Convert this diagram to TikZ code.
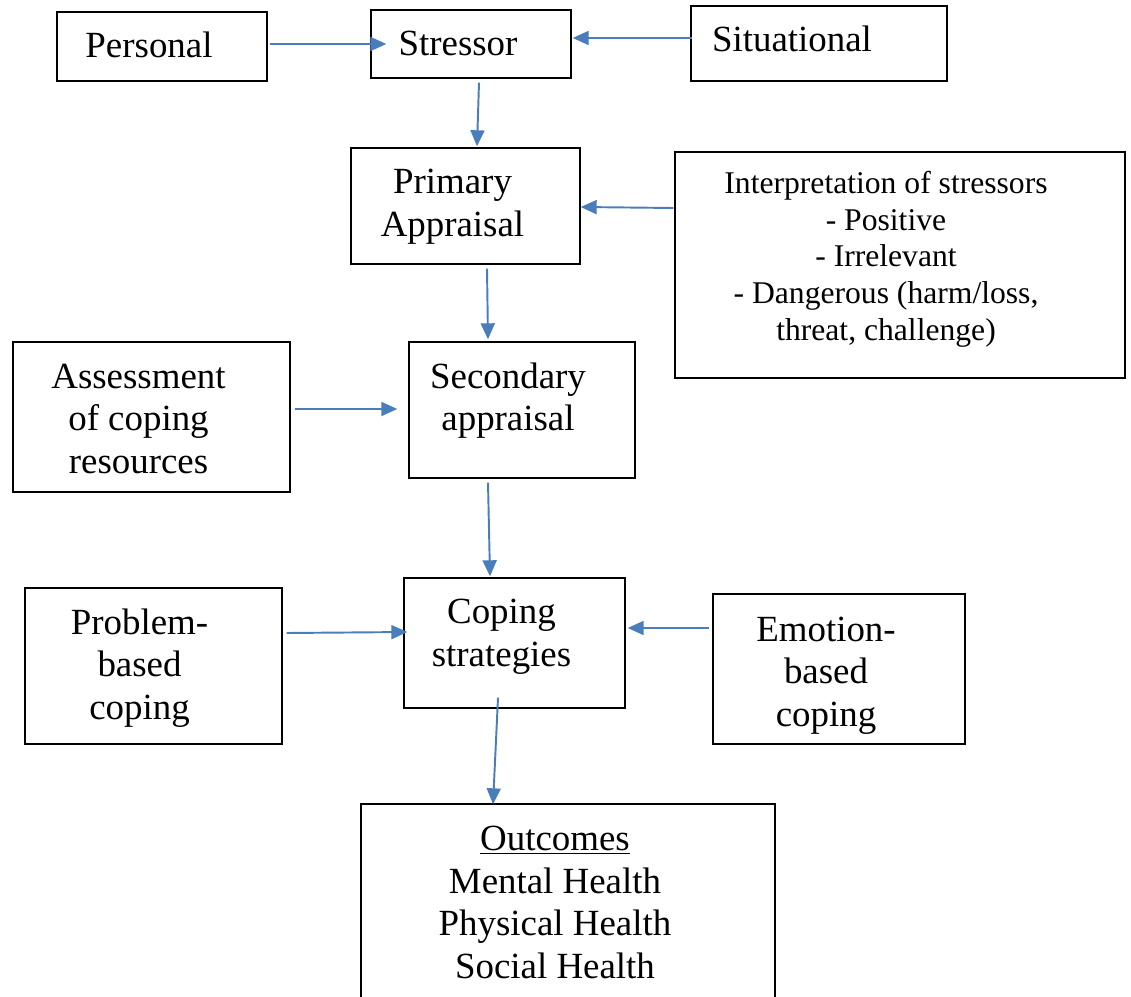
\documentclass[tikz,border=0pt]{standalone}
\usepackage{fontspec}
\setmainfont{Liberation Serif}
\usepackage{tikz}
\usetikzlibrary{calc,arrows.meta}
\definecolor{arrowblue}{RGB}{74,126,187}

\begin{document}
\begin{tikzpicture}[x=0.02cm,y=-0.02cm,
    box/.style={draw=black,line width=0.8pt,inner sep=0pt},
    txt/.style={align=center,inner sep=0pt,font=\fontsize{21}{24.3}\selectfont},
    flow/.style={draw=arrowblue,line width=1.1pt,
      -{Triangle[length=0.32cm,width=0.28cm]},color=arrowblue}]
        \useasboundingbox (0,0) rectangle (1131,996);
        % boxes, placed at their centres (text sits a little left of centre)
        \node[box,minimum width=4.2cm,minimum height=1.38cm,
          label={[txt,xshift=-0.26cm,yshift=0.04cm]center:Personal}] (personal) at (162,46.5) {};
        \node[box,minimum width=4cm,minimum height=1.36cm,
          label={[txt,xshift=-0.26cm,yshift=0.02cm]center:Stressor}] (stressor) at (471,44) {};
        \node[box,minimum width=5.12cm,minimum height=1.5cm,
          label={[txt,xshift=-0.54cm,yshift=0.1cm]center:Situational}] (situational) at (819,43.5) {};
        \node[box,minimum width=4.58cm,minimum height=2.32cm,
          label={[txt,xshift=-0.26cm,yshift=-0.02cm]center:Primary\\Appraisal}] (primary) at (465.5,206) {};
        \node[box,minimum width=9cm,minimum height=4.52cm,
          label={[txt,font=\fontsize{18}{20.9}\selectfont,xshift=-0.28cm,yshift=0.12cm]center:%
            {Interpretation of stressors\\- Positive\\- Irrelevant\\- Dangerous (harm/loss,\\threat, challenge)}}]
          (interp) at (900,265) {};
        \node[box,minimum width=4.52cm,minimum height=2.72cm,
          label={[txt,xshift=-0.28cm,yshift=0.19cm]center:Secondary\\appraisal}] (secondary) at (522,410) {};
        \node[box,minimum width=5.54cm,minimum height=3cm,
          label={[txt,xshift=-0.26cm,yshift=-0.04cm]center:Assessment\\of coping\\resources}] (assess) at (151.5,417) {};
        \node[box,minimum width=4.42cm,minimum height=2.6cm,
          label={[txt,xshift=-0.26cm,yshift=0.13cm]center:Coping\\strategies}] (coping) at (514.5,643) {};
        \node[box,minimum width=5.14cm,minimum height=3.12cm,
          label={[txt,xshift=-0.28cm,yshift=-0.04cm]center:Problem-\\based\\coping}] (problem) at (153.5,666) {};
        \node[box,minimum width=5.04cm,minimum height=3cm,
          label={[txt,xshift=-0.26cm,yshift=-0.13cm]center:Emotion-\\based\\coping}] (emotion) at (839,669) {};
        \node[box,minimum width=8.28cm,minimum height=4.8cm,
          label={[txt,xshift=-0.26cm,yshift=0.43cm]center:\underline{Outcomes}\\Mental Health\\Physical Health\\Social Health}]
          (outcomes) at (568,924) {};
        % arrows between the boxes
        \draw[flow] ($(personal.east)+(2,-2.5)$) -- ($(stressor.west)+(16,0)$);
        \draw[flow] ($(situational.west)+(2,-5.5)$) -- ($(stressor.east)+(1,-6)$);
        \draw[flow] ($(stressor.south)+(8,4)$) -- ($(primary.north)+(11.5,-1)$);
        \draw[flow] ($(interp.west)+(-1,-57)$) -- ($(primary.east)+(0,1)$);
        \draw[flow] ($(primary.south)+(21.5,4)$) -- ($(secondary.north)+(-34,-2)$);
        \draw[flow] ($(assess.east)+(4,-8)$) -- ($(secondary.west)+(-11,-1)$);
        \draw[flow] ($(secondary.south)+(-34,4)$) -- ($(coping.north)+(-24.5,-1)$);
        \draw[flow] ($(problem.east)+(4,-33)$) -- ($(coping.west)+(4,-11)$);
        \draw[flow] ($(emotion.west)+(-3,-41)$) -- ($(coping.east)+(2,-15)$);
        \draw[flow] ($(coping.south)+(-16.5,-11)$) -- ($(outcomes.north)+(-75,1)$);
      \end{tikzpicture}
\end{document}
